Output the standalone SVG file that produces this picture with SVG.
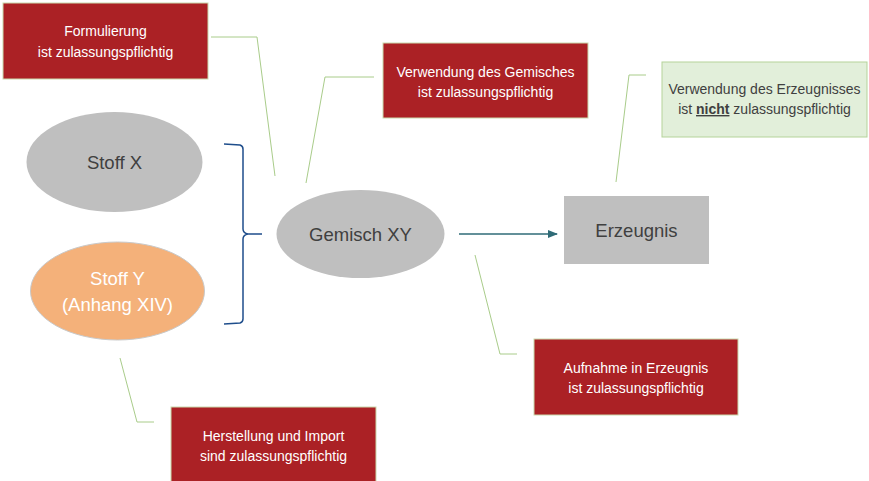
<svg xmlns="http://www.w3.org/2000/svg" width="869" height="481" viewBox="0 0 869 481">
<style>
.red{fill:#ab2125;stroke:#c9d9ad;stroke-width:1}
.grn{fill:#e2efda;stroke:#b5d39a;stroke-width:1}
.gray{fill:#bfbfbf}
.wt{font-family:"Liberation Sans",Arial,sans-serif;font-size:14px;fill:#ffffff;text-anchor:middle}
.dt{font-family:"Liberation Sans",Arial,sans-serif;font-size:14px;fill:#404040;text-anchor:middle}
.big{font-family:"Liberation Sans",Arial,sans-serif;font-size:18.5px;fill:#404040;text-anchor:middle}
.bigw{font-family:"Liberation Sans",Arial,sans-serif;font-size:18.5px;fill:#ffffff;text-anchor:middle}
.call{fill:none;stroke:#a9cc8a;stroke-width:1}
</style>
<defs>
<marker id="ah" markerWidth="10" markerHeight="8" refX="9" refY="4" orient="auto" markerUnits="userSpaceOnUse">
<path d="M0,0 L10,4 L0,8 Z" fill="#2f6b77"/>
</marker>
</defs>
<g id="connectors">
<polyline class="call" points="211,37 257,37 275,176"/>
<polyline class="call" points="374,77 325,77 306,183"/>
<polyline class="call" points="646,75 629,75 616,182"/>
<polyline class="call" points="475,255 500,354 517,354"/>
<polyline class="call" points="120,358 137,422 154,422"/>
<path d="M224,144 L240,145 Q243,146 243,149 L243,229 Q243,233 248,234 L262,234 M248,234 Q243,235 243,239 L243,319 Q243,322 240,323 L224,324" fill="none" stroke="#1f4e8c" stroke-width="1.5"/>
<line x1="459" y1="234" x2="557" y2="234" stroke="#2f6b77" stroke-width="1.5" marker-end="url(#ah)"/>
</g>
<g id="formulierung">
<rect class="red" x="3" y="3" width="205" height="76"/>
<text class="wt" x="105.5" y="36">Formulierung</text>
<text class="wt" x="105.5" y="57">ist zulassungspflichtig</text>
</g>
<g id="stoffx">
<ellipse class="gray" cx="114.5" cy="162" rx="88" ry="50"/>
<text class="big" x="114.5" y="169">Stoff X</text>
</g>
<g id="stoffy">
<ellipse cx="117.5" cy="291" rx="87" ry="49" fill="#f4b17a" stroke="#c9c9c9" stroke-width="1"/>
<text class="bigw" x="117.5" y="285">Stoff Y</text>
<text class="bigw" x="117.5" y="311">(Anhang XIV)</text>
</g>
<g id="gemisch">
<ellipse class="gray" cx="360.5" cy="234" rx="84" ry="44"/>
<text class="big" x="360.5" y="240.5">Gemisch XY</text>
</g>
<g id="verwendung-gemisch">
<rect class="red" x="383" y="43" width="205" height="75"/>
<text class="wt" x="485.5" y="77">Verwendung des Gemisches</text>
<text class="wt" x="485.5" y="97">ist zulassungspflichtig</text>
</g>
<g id="erzeugnis">
<rect class="gray" x="564" y="196" width="145" height="68"/>
<text class="big" x="636.5" y="237">Erzeugnis</text>
</g>
<g id="verwendung-erzeugnis">
<rect class="grn" x="662" y="62" width="205" height="75"/>
<text class="dt" x="764.5" y="94">Verwendung des Erzeugnisses</text>
<text class="dt" x="764.5" y="114">ist <tspan font-weight="bold" text-decoration="underline">nicht</tspan> zulassungspflichtig</text>
</g>
<g id="aufnahme">
<rect class="red" x="534" y="339" width="204" height="76"/>
<text class="wt" x="636" y="373">Aufnahme in Erzeugnis</text>
<text class="wt" x="636" y="393">ist zulassungspflichtig</text>
</g>
<g id="herstellung">
<rect class="red" x="171" y="407" width="205" height="76"/>
<text class="wt" x="273.5" y="441">Herstellung und Import</text>
<text class="wt" x="273.5" y="461">sind zulassungspflichtig</text>
</g>
</svg>
